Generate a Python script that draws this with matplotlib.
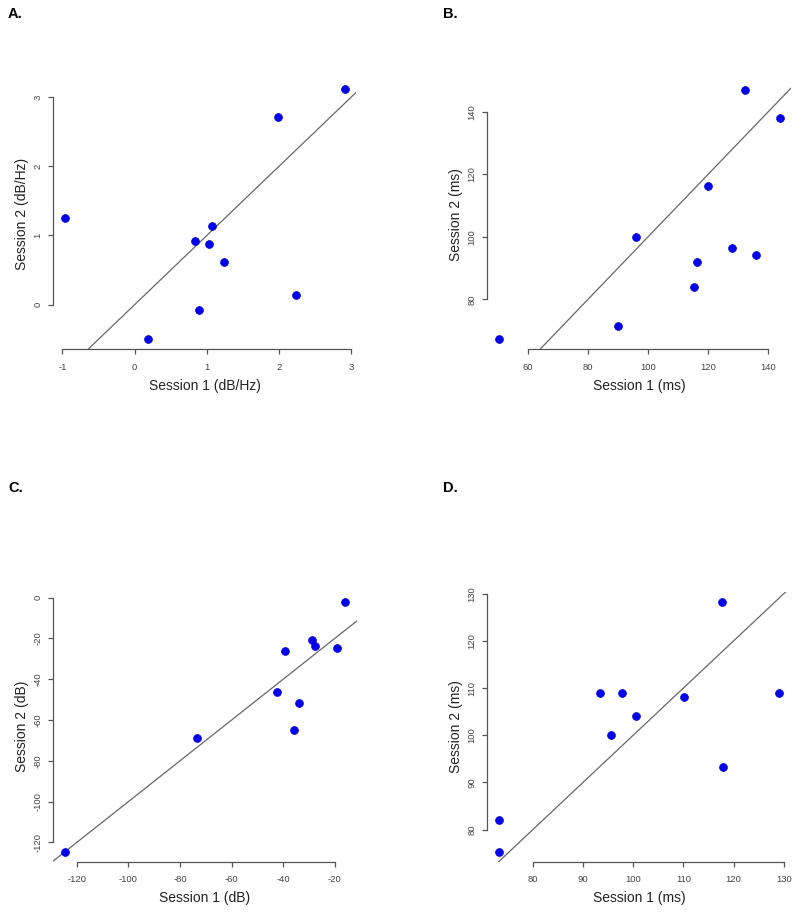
import matplotlib
matplotlib.use("Agg")
import matplotlib.pyplot as plt
import numpy as np

plt.rcParams['font.family'] = ['Liberation Sans', 'DejaVu Sans']

# ---- data ----
a_s1 = [-0.97, 2.91, 1.99, 1.07, 0.84, 1.03, 1.24, 2.24, 0.89, 0.19]
a_s2 = [1.25, 3.11, 2.71, 1.13, 0.92, 0.88, 0.62, 0.14, -0.07, -0.50]
a_xticks = [-1, 0, 1, 2, 3]
a_yticks = [0, 1, 2, 3]

b_s1 = [50.2, 90.0, 95.9, 115.4, 116.2, 120.0, 128.1, 136.0, 132.2, 143.8]
b_s2 = [67.2, 71.5, 99.9, 83.9, 92.1, 116.3, 96.5, 94.2, 147.0, 137.9]
b_xticks = [60, 80, 100, 120, 140]
b_yticks = [80, 100, 120, 140]

c_s1 = [-124.8, -73.5, -42.5, -39.2, -33.7, -35.8, -28.8, -27.8, -19.1, -15.9]
c_s2 = [-124.6, -68.9, -46.2, -25.9, -51.5, -64.8, -20.5, -23.8, -24.8, -2.0]
c_xticks = [-120, -100, -80, -60, -40, -20]
c_yticks = [-120, -100, -80, -60, -40, -20, 0]

d_s1 = [73.15, 73.15, 93.3, 97.8, 95.6, 100.6, 110.1, 117.6, 117.9, 129.1]
d_s2 = [75.3, 82.05, 108.9, 108.9, 100.0, 104.1, 108.2, 128.3, 93.2, 108.9]
d_xticks = [80, 90, 100, 110, 120, 130]
d_yticks = [80, 90, 100, 110, 120, 130]

panels = [
    ("A.", a_s1, a_s2, a_xticks, a_yticks, "Session 1 (dB/Hz)", "Session 2 (dB/Hz)"),
    ("B.", b_s1, b_s2, b_xticks, b_yticks, "Session 1 (ms)", "Session 2 (ms)"),
    ("C.", c_s1, c_s2, c_xticks, c_yticks, "Session 1 (dB)", "Session 2 (dB)"),
    ("D.", d_s1, d_s2, d_xticks, d_yticks, "Session 1 (ms)", "Session 2 (ms)"),
]

W, H = 800, 923
fig = plt.figure(figsize=(W / 100, H / 100), dpi=100)

# axes boxes in pixels: left, top, right, bottom
boxes = [
    (53.3, 79.4, 356.0, 349.3),
    (487.3, 80.0, 790.8, 349.3),
    (53.3, 591.8, 356.5, 861.7),
    (487.3, 591.7, 790.5, 861.7),
]
label_pos = [(8, 14), (443, 14), (8, 488), (443, 488)]

axis_col = '#555555'
tick_col = '#444444'

def rlim(vals):
    lo, hi = min(vals), max(vals)
    pad = 0.04 * (hi - lo)
    return lo - pad, hi + pad

for (lab, x, y, xt, yt, xl, yl), (l, t, r, b), (lx, ly) in zip(panels, boxes, label_pos):
    ax = fig.add_axes([l / W, (H - b) / H, (r - l) / W, (b - t) / H])
    ax.set_xlim(*rlim(x))
    ax.set_ylim(*rlim(y))
    ax.axline((0, 0), slope=1, color='#666666', lw=0.9, zorder=1)
    ax.scatter(x, y, s=32, color='#0000ee', edgecolors='#0000cc', linewidths=0.5,
               zorder=3, clip_on=False)
    for s in ['top', 'right']:
        ax.spines[s].set_visible(False)
    ax.spines['left'].set_bounds(yt[0], yt[-1])
    ax.spines['bottom'].set_bounds(xt[0], xt[-1])
    for s in ['left', 'bottom']:
        ax.spines[s].set_color(axis_col)
        ax.spines[s].set_linewidth(0.9)
    ax.set_xticks(xt)
    ax.set_yticks(yt)
    ax.set_xticklabels([str(v) for v in xt])
    ax.set_yticklabels([str(v) for v in yt], rotation=90, va='center')
    ax.tick_params(axis='both', direction='out', length=3.6, width=0.9,
                   color=axis_col, labelcolor=tick_col, labelsize=6.8)
    ax.tick_params(axis='x', pad=6.0)
    ax.tick_params(axis='y', pad=4.0)
    ax.set_xlabel(xl, fontsize=10, color='#222222', va='center')
    ax.set_ylabel(yl, fontsize=10, color='#222222', va='center')
    ax.xaxis.set_label_coords(0.5, -36.5 / (b - t))
    ax.yaxis.set_label_coords(-31.5 / (r - l), 0.5)
    fig.text(lx / W, 1 - ly / H, lab, fontsize=10.5, fontweight='bold',
             ha='left', va='center', color='black')

fig.savefig('out.png', dpi=100)
